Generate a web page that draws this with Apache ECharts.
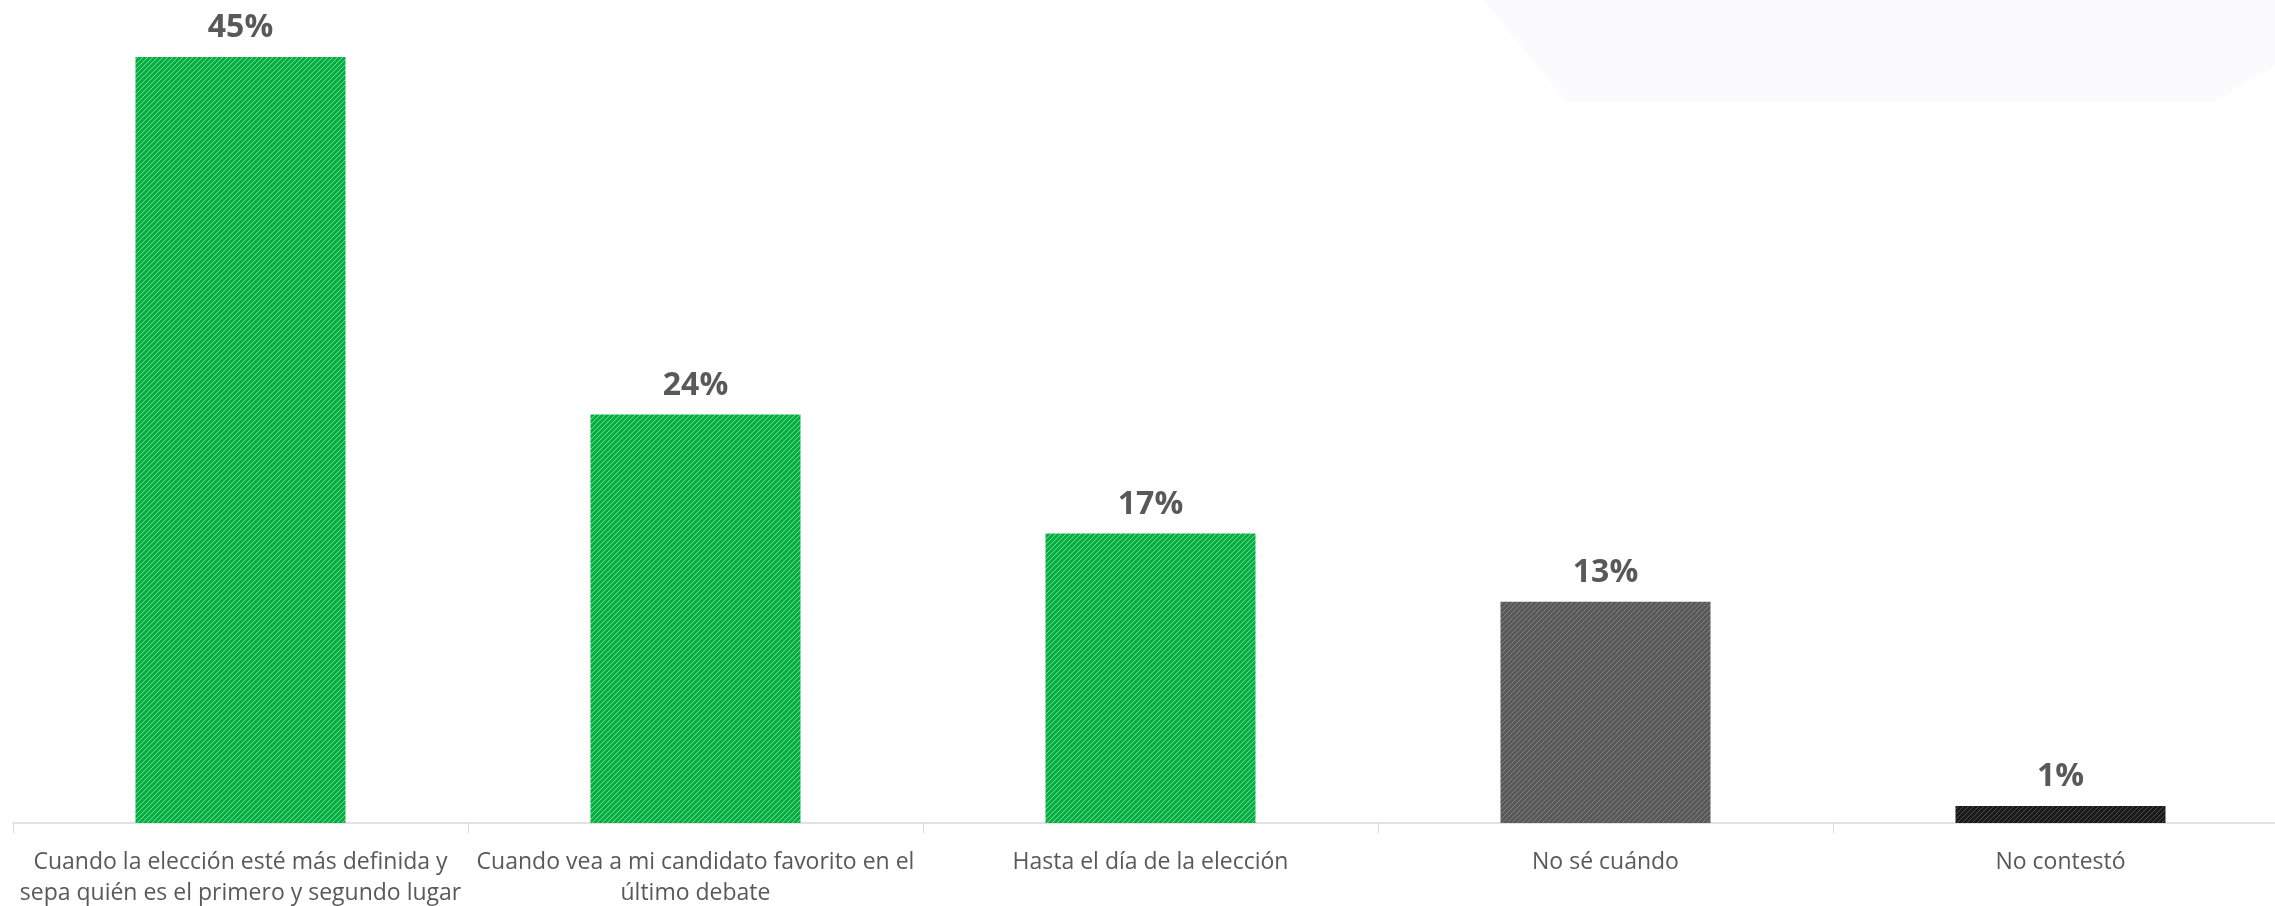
<!DOCTYPE html>
<html>
<head>
<meta charset="utf-8">
<script src="https://cdn.jsdelivr.net/npm/echarts@6/dist/echarts.min.js"></script>
<style>
  html, body { margin: 0; padding: 0; background: #fff; }
  #chart { width: 2275px; height: 906px; }
</style>
</head>
<body>
<div id="chart"></div>
<script>
// datos
const categories = [
  'Cuando la elección esté más definida y\nsepa quién es el primero y segundo lugar',
  'Cuando vea a mi candidato favorito en el\núltimo debate',
  'Hasta el día de la elección',
  'No sé cuándo',
  'No contestó'
]
const values = [45, 24, 17, 13, 1]

// rayado diagonal como en el original
function hatch(bg, fg) {
  const n = 5
  const c = document.createElement('canvas')
  c.width = n
  c.height = n
  const ctx = c.getContext('2d')
  ctx.fillStyle = bg
  ctx.fillRect(0, 0, n, n)
  ctx.strokeStyle = fg
  ctx.lineWidth = 1
  ctx.beginPath()
  ctx.moveTo(0, n); ctx.lineTo(n, 0)
  ctx.moveTo(-1, 1); ctx.lineTo(1, -1)
  ctx.moveTo(n - 1, n + 1); ctx.lineTo(n + 1, n - 1)
  ctx.stroke()
  return { image: c, repeat: 'repeat' }
}

const fills = [
  hatch('#00B050', '#8AD85E'),
  hatch('#00B050', '#8AD85E'),
  hatch('#00B050', '#8AD85E'),
  hatch('#595959', '#7F7F7F'),
  hatch('#1A1A1A', '#4D4D4D')
]

const chart = echarts.init(document.getElementById('chart'))
chart.setOption({
  animation: false,
  textStyle: { fontFamily: 'Open Sans' },
  graphic: [{
    type: 'polygon',
    z: -10,
    shape: { points: [[1483, 0], [1567, 102], [2213, 102], [2275, 65], [2275, 0]] },
    style: { fill: '#FBFBFD' }
  }],
  grid: { left: 13, right: -13, top: 57, bottom: 83, containLabel: false, outerBoundsMode: 'none' },
  xAxis: {
    type: 'category',
    data: categories,
    axisLine: { lineStyle: { color: '#D9D9D9', width: 1.5 } },
    axisTick: { show: true, length: 10, lineStyle: { color: '#D9D9D9' } },
    axisLabel: {
      interval: 0,
      margin: 24,
      color: '#595959',
      fontSize: 23,
      lineHeight: 31,
      fontFamily: 'Open Sans'
    }
  },
  yAxis: {
    type: 'value',
    min: 0,
    max: 45,
    show: false
  },
  series: [{
    type: 'bar',
    barWidth: 210,
    data: values.map((v, i) => ({ value: v, itemStyle: { color: fills[i] } })),
    label: {
      show: true,
      position: 'top',
      distance: 13,
      formatter: '{c}%',
      color: '#595959',
      fontSize: 32,
      fontWeight: 'bold',
      fontFamily: 'Open Sans'
    }
  }]
})
</script>
</body>
</html>
